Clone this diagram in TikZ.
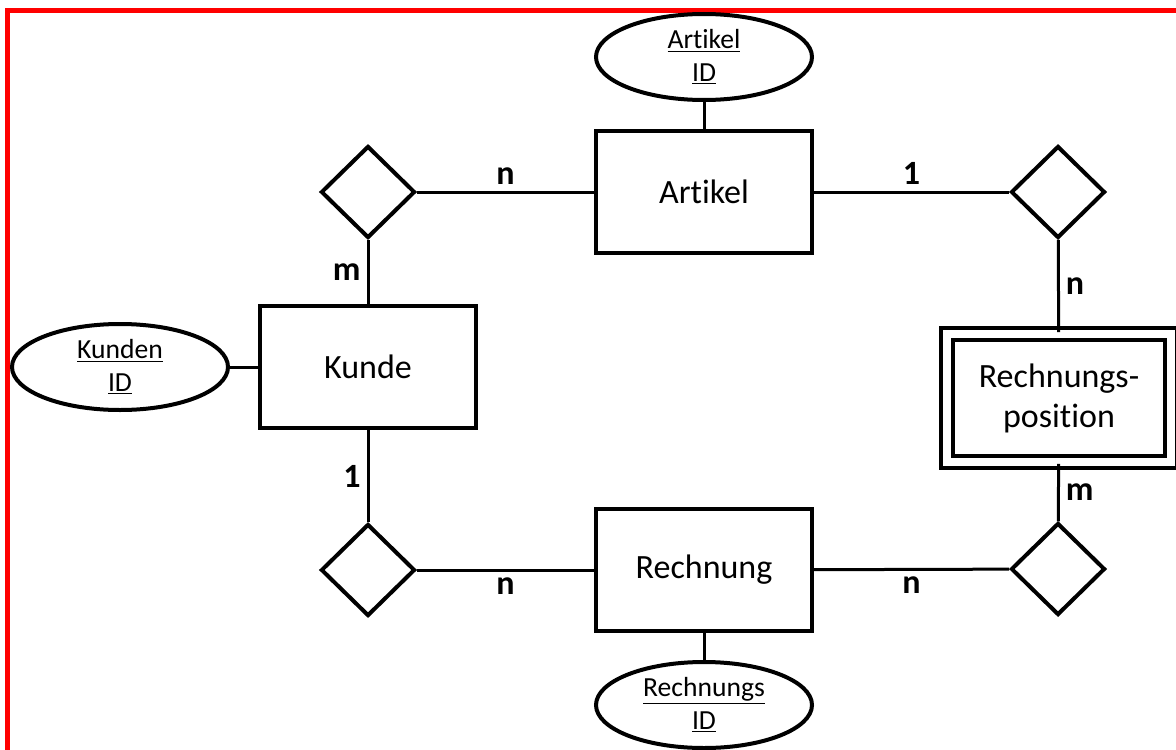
\documentclass[tikz,border=0pt]{standalone}
\usepackage{fontspec}
\setmainfont{Carlito}[Ligatures=NoCommon]
\usepackage{tikz}
\usetikzlibrary{arrows,positioning,shapes,fit,calc}

\begin{document}
\begin{tikzpicture}[x=0.5pt, y=-0.5pt, auto,
  entity node/.style={rectangle,draw,line width=2pt,minimum width=108pt,minimum height=61pt,inner sep=0pt,font=\fontsize{17}{20}\selectfont},
  weak node/.style={rectangle,draw,line width=1.8pt,double,double distance=4pt,minimum width=112pt,minimum height=64pt,inner sep=0pt,align=center,font=\fontsize{17}{20}\selectfont},
  rel node/.style={diamond,draw,line width=2pt,minimum width=47pt,minimum height=46pt,inner sep=0pt},
  attr node/.style={ellipse,draw,line width=2pt,minimum width=108pt,minimum height=43pt,inner sep=0pt,align=center,font=\fontsize{13.8}{16.5}\selectfont},
  card/.style={font=\fontsize{17}{20}\selectfont\bfseries,inner sep=3pt}]%
\useasboundingbox (0,0) rectangle (1176,749);
\draw[red,line width=2.5pt] (7.5,760) -- (7.5,10.5) -- (1190,10.5);
\begin{scope}
\node[entity node] (kunde) at (368,367) {Kunde};
\node[entity node] (artikel) at (704,192) {Artikel};
\node[entity node] (rechnung) at (704,570) {Rechnung};
\node[weak node] (rpos) at (1059,398) {Rechnungs-\\position};
\node[rel node] (rKA) at (368,192) {};
\node[rel node] (rAP) at (1058,192) {};
\node[rel node] (rPR) at (1058,569) {};
\node[rel node] (rKR) at (368,570) {};
\node[attr node] (idA) at (704,57) {\underline{Artikel}\\\underline{ID}};
\node[attr node] (idK) at (120,367) {\underline{Kunden}\\\underline{ID}};
\node[attr node] (idR) at (704,705) {\underline{Rechnungs}\\\underline{ID}};
\end{scope}
\begin{scope}[every edge/.style={draw=black,line width=1.5pt}]
\draw (rKA) edge node[card,above]{n} (artikel);
\draw (rKA) edge node[card,left]{m} (kunde);
\draw (artikel) edge node[card,above]{1} (rAP);
\draw (rAP) edge node[card,right]{n} (rpos);
\draw (rpos) edge node[card,right]{m} (rPR);
\draw (rechnung) edge node[card,below]{n} (rPR);
\draw (rKR) edge node[card,below]{n} (rechnung);
\draw (kunde) edge node[card,left]{1} (rKR);
\draw (idA) edge (artikel);
\draw (idK) edge (kunde);
\draw (idR) edge (rechnung);
\end{scope}
\end{tikzpicture}
\end{document}
